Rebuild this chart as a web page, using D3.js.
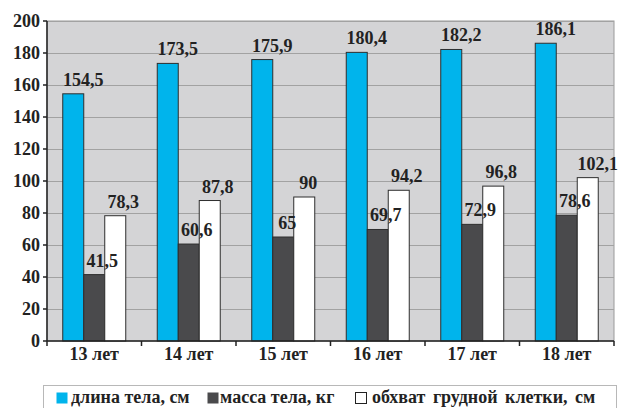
<!DOCTYPE html>
<html><head><meta charset="utf-8">
<script src="https://cdn.jsdelivr.net/npm/d3@7"></script>
</head><body style="margin:0;background:#fff">
<svg id="c" width="620" height="408"></svg>
<script>
const categories = ["13 лет","14 лет","15 лет","16 лет","17 лет","18 лет"];
const seriesNames = ["длина тела, см","масса тела, кг","обхват грудной клетки, см"];
const bodyLength = [154.5,173.5,175.9,180.4,182.2,186.1];
const bodyMass = [41.5,60.6,65,69.7,72.9,78.6];
const chestGirth = [78.3,87.8,90,94.2,96.8,102.1];
const labelsLength = ["154,5","173,5","175,9","180,4","182,2","186,1"];
const labelsMass = ["41,5","60,6","65","69,7","72,9","78,6"];
const labelsChest = ["78,3","87,8","90","94,2","96,8","102,1"];
const yTicks = [0,20,40,60,80,100,120,140,160,180,200];
const colors = ["#00b4ec","#4a4a4c","#ffffff"];

const series = [
  {name: seriesNames[0], values: bodyLength, labels: labelsLength, color: colors[0]},
  {name: seriesNames[1], values: bodyMass, labels: labelsMass, color: colors[1]},
  {name: seriesNames[2], values: chestGirth, labels: labelsChest, color: colors[2]}
];

const FONT = "font-family:'Liberation Serif';font-weight:bold;font-size:18px";
const svg = d3.select("#c");
const m = {l:47, r:6, t:21, b:67};
const W = 620, H = 408;
const x = d3.scaleBand().domain(categories).range([m.l, W - m.r]).padding(0);
const y = d3.scaleLinear().domain([0,200]).range([H - m.b, m.t]);
const bw = x.bandwidth() * 0.2222;
const groupOff = (x.bandwidth() - bw*3)/2;

// plot background
svg.append("rect").attr("x", m.l).attr("y", m.t).attr("width", W-m.r-m.l).attr("height", y(0)-m.t)
  .attr("fill", "#d4d4d6").attr("stroke", "#9a9a9a").attr("stroke-width", 1);

// grid
svg.selectAll("line.grid").data(yTicks.filter(d=>d>0)).join("line").attr("class","grid")
  .attr("x1", m.l).attr("x2", W-m.r).attr("y1", d=>y(d)+0.5).attr("y2", d=>y(d)+0.5)
  .attr("stroke", "#a2a2a2").attr("stroke-width", 1);

// bars
series.forEach((s, si) => {
  svg.selectAll("rect.s"+si).data(s.values).join("rect").attr("class","s"+si)
    .attr("x", (d,i) => x(categories[i]) + groupOff + si*bw)
    .attr("y", d => y(d))
    .attr("width", bw)
    .attr("height", d => y(0) - y(d))
    .attr("fill", s.color)
    .attr("stroke", "#2e2e2e").attr("stroke-width", 1);
});

// value labels
series.forEach((s, si) => {
  svg.selectAll("text.l"+si).data(s.values).join("text").attr("class","l"+si)
    .attr("x", (d,i) => x(categories[i]) + groupOff + si*bw + bw/2 + 2*s.labels[i].length)
    .attr("y", d => y(d) - 8)
    .attr("text-anchor", "middle")
    .attr("style", FONT)
    .attr("fill", "#222")
    .text((d,i) => s.labels[i]);
});

// y axis (line + ticks via scale)
svg.append("line").attr("x1", m.l).attr("x2", m.l).attr("y1", y(200)).attr("y2", y(0))
  .attr("stroke", "#222").attr("stroke-width", 1.5);
svg.selectAll("line.ytk").data(yTicks).join("line").attr("class","ytk")
  .attr("x1", m.l-4).attr("x2", m.l).attr("y1", d=>y(d)).attr("y2", d=>y(d))
  .attr("stroke", "#222").attr("stroke-width", 1.5);
svg.selectAll("text.ytl").data(yTicks).join("text").attr("class","ytl")
  .attr("x", m.l-7).attr("y", d => y(d) + 6)
  .attr("text-anchor", "end")
  .attr("style", FONT).attr("fill", "#222")
  .text(d => d3.format("d")(d));

// x axis
svg.append("line").attr("x1", m.l).attr("x2", W-m.r).attr("y1", y(0)).attr("y2", y(0)).attr("stroke", "#222").attr("stroke-width", 1.5);
const bounds = categories.map(c => x(c)).concat([x.range()[1]]);
svg.selectAll("line.xtk").data(bounds).join("line").attr("class","xtk")
  .attr("x1", d=>d).attr("x2", d=>d).attr("y1", y(0)).attr("y2", y(0)+5)
  .attr("stroke", "#222").attr("stroke-width", 1.5);
svg.selectAll("text.xtl").data(categories).join("text").attr("class","xtl")
  .attr("x", d => x(d) + x.bandwidth()/2).attr("y", y(0) + 19)
  .attr("text-anchor", "middle")
  .attr("style", FONT).attr("fill", "#222")
  .text(d => d);

// legend
svg.append("rect").attr("x", 43.5).attr("y", 385.5).attr("width", 573).attr("height", 40)
  .attr("fill", "#fff").attr("stroke", "#b8b8b8").attr("stroke-width", 1);
const legX = [56, 207, 355];
const textX = [71, 220, 372];
series.forEach((s, si) => {
  svg.append("rect").attr("x", legX[si]+0.5).attr("y", 392.5).attr("width", 11).attr("height", 11)
    .attr("fill", s.color).attr("stroke", si===2 ? "#222" : "none").attr("stroke-width", 1);
  svg.append("text").attr("x", textX[si]).attr("y", 403)
    .attr("style", FONT + (si===2 ? ";word-spacing:3px" : ""))
    .attr("fill", "#222")
    .text(s.name);
});
</script>
</body></html>
